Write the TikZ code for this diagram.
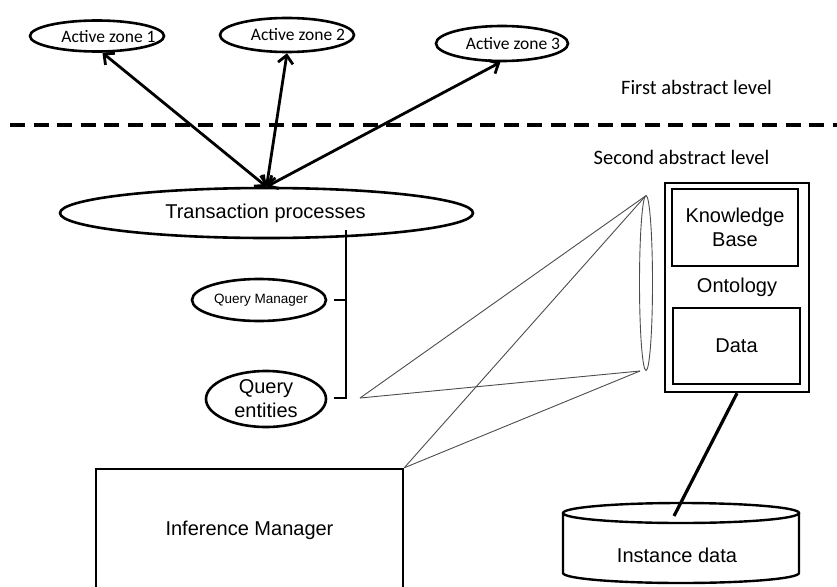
\documentclass[tikz,border=0pt]{standalone}
\usepackage{fontspec}
\setmainfont{Liberation Sans}
\newfontfamily\calfont{Carlito}
\usetikzlibrary{shapes.geometric,arrows.meta,calc}
\begin{document}
\begin{tikzpicture}[x=1pt,y=-1pt,
  ell/.style={draw,line width=2.6pt,ellipse,inner sep=0pt},
  box/.style={draw,line width=2.4pt,rectangle,inner sep=0pt},
  arial/.style={font=\fontsize{20}{24}\selectfont,align=center,inner sep=0pt},
  smallarial/.style={font=\fontsize{13.5}{16}\selectfont,inner sep=0pt},
  zonetxt/.style={font=\calfont\fontsize{17.5}{20}\selectfont,inner sep=0pt},
  lvl/.style={font=\calfont\fontsize{20.5}{24}\selectfont,inner sep=0pt},
  biarrow/.style={line width=2.8pt,{Straight Barb[length=8pt,width=15pt]}-{Straight Barb[length=8pt,width=15pt]}},
  cone/.style={line width=0.9pt,black!70},
  thickline/.style={line width=3.2pt},
  bracket/.style={line width=2.6pt},
]
\useasboundingbox (0,0) rectangle (837,586);
\clip (0,0) rectangle (837,586);

% active zones
\node[ell,minimum width=134,minimum height=31] (z1) at (97,36) {};
\node[zonetxt] (z1t) at (108.5,36.5) {Active zone 1};
\node[ell,minimum width=134,minimum height=34] (z2) at (287,35) {};
\node[zonetxt] (z2t) at (298,35) {Active zone 2};
\node[ell,minimum width=132,minimum height=35] (z3) at (502,43.5) {};
\node[zonetxt] (z3t) at (513,43.5) {Active zone 3};

% level labels and separator
\node[lvl] (l1) at (696.5,87) {First abstract level};
\node[lvl] (l2) at (681.5,157) {Second abstract level};
\coordinate (dl) at (10,125);
\coordinate (dr) at (837,125);
\draw[thickline,dash pattern=on 15pt off 8.5pt] (dl) -- (dr);

% transaction processes
\node[ell,minimum width=413,minimum height=50] (tp) at (266.5,213) {};
\node[arial] (tpt) at (265.5,213) {Transaction processes};

\draw[biarrow] (tp.north) -- (z1.-72);
\draw[biarrow] (tp.north) -- (z2.south);
\draw[biarrow] (tp.north) -- (z3.-95);

% query manager / entities
\node[ell,minimum width=134,minimum height=42] (qm) at (259,300) {};
\node[smallarial] (qmt) at (261,300) {Query Manager};
\node[ell,minimum width=120,minimum height=56] (qe) at (266,399) {};
\node[arial] (qet) at (266,399) {Query\\entities};

\coordinate (bt) at (346,230);
\coordinate (bb) at (346,398);
\draw[bracket] (bt) -- (bb) -- ($(qe.east)+(7,-1)$);
\draw[bracket] ($(qm.east)+(7,0)$) -- (qm.east -| bt);

% inference manager
\node[box,minimum width=307,minimum height=122,arial] (im) at (249.5,530) {Inference Manager};

% ontology
\node[box,minimum width=144,minimum height=209,arial] (onto) at (737,287.5) {Ontology};
\node[box,minimum width=126,minimum height=77,arial] (kb) at (735,227.5) {Knowledge\\Base};
\node[box,minimum width=127,minimum height=76,arial] (data) at (736.5,346) {Data};

% cone
\draw[cone] (646,283) ellipse[x radius=6.5,y radius=87.5];
\coordinate (ct) at (645.5,196);
\coordinate (cb) at (640,371);
\coordinate (qa) at (360,398);
\draw[cone] (qa) -- (ct);
\draw[cone] (qa) -- (cb);
\draw[cone] (im.north east) -- (ct);
\draw[cone] (im.north east) -- (cb);

% instance data cylinder
\draw[line width=2.4pt] (563,513) -- (563,573) arc[start angle=180,end angle=0,x radius=118,y radius=10] -- (799,513);
\draw[line width=2.4pt] (681,513) ellipse[x radius=118,y radius=10];
\node[arial] (inst) at (677,555) {Instance data};
\coordinate (dbtop) at (674,516);
\draw[thickline] (onto.south) -- (dbtop);
\end{tikzpicture}
\end{document}
